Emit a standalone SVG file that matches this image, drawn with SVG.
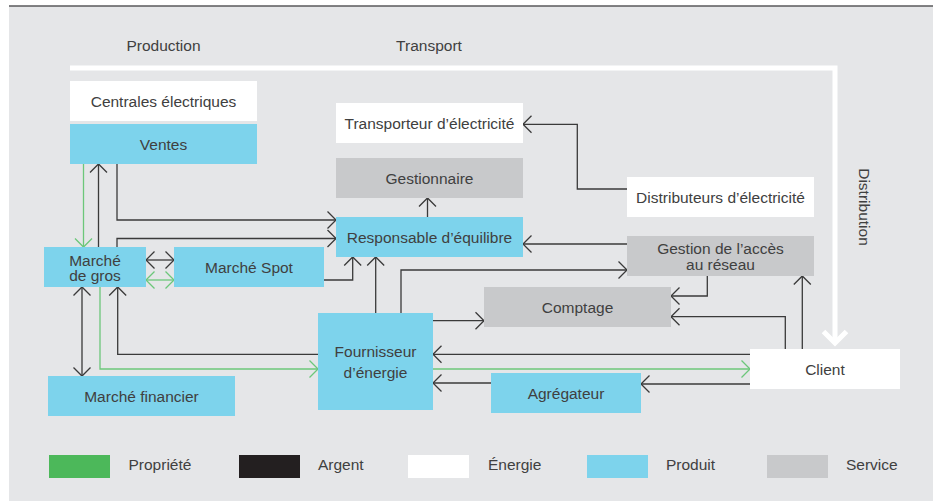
<svg xmlns="http://www.w3.org/2000/svg" width="939" height="501" viewBox="0 0 939 501">
<defs>
<style>
text{font-family:"Liberation Sans",Arial,sans-serif;font-size:15.5px;fill:#404040;}
.c{text-anchor:middle;}
.prod{fill:#7dd3ec;}
.serv{fill:#c8c9cb;}
.ener{fill:#ffffff;}
.k{fill:none;stroke:#3a3a3a;stroke-width:1.3;}
.g{fill:none;stroke:#6cc77a;stroke-width:1.3;}
</style>
<marker id="ak" viewBox="-10 -10 12 20" refX="0" refY="0" markerWidth="12" markerHeight="20" markerUnits="userSpaceOnUse" orient="auto-start-reverse"><path d="M-8.5,-8.5 L0,0 L-8.5,8.5" fill="none" stroke="#3a3a3a" stroke-width="1.3"/></marker>
<marker id="ag" viewBox="-10 -10 12 20" refX="0" refY="0" markerWidth="12" markerHeight="20" markerUnits="userSpaceOnUse" orient="auto-start-reverse"><path d="M-8.5,-8.5 L0,0 L-8.5,8.5" fill="none" stroke="#6cc77a" stroke-width="1.3"/></marker>
</defs>
<rect x="9" y="6" width="924" height="495" fill="#e5e6e8"/>
<line x1="9" y1="6" x2="933" y2="6" stroke="#58595b" stroke-width="1.6"/>

<g id="energy-flow">
<path d="M70,68 H835 V343" fill="none" stroke="#ffffff" stroke-width="5"/>
<path d="M823.5,331.5 L835,343 L846.5,331.5" fill="none" stroke="#ffffff" stroke-width="5"/>
</g>
<text x="163.5" y="50.5" class="c">Production</text>
<text x="429" y="50.5" class="c">Transport</text>
<text transform="translate(858.5,207) rotate(90)" class="c">Distribution</text>

<g id="connectors">
<path class="k" d="M98.5,247 V164" marker-end="url(#ak)"/>
<path class="g" d="M83.5,164 V247" marker-end="url(#ag)"/>
<path class="k" d="M117,164 V220 H336" marker-end="url(#ak)"/>
<path class="k" d="M117,247 V238.5 H336" marker-end="url(#ak)"/>
<path class="k" d="M146,260 H174" marker-start="url(#ak)" marker-end="url(#ak)"/>
<path class="g" d="M146,280 H174" marker-start="url(#ag)" marker-end="url(#ag)"/>
<path class="k" d="M324,280 H352.7 V257" marker-end="url(#ak)"/>
<path class="k" d="M375.7,313 V257" marker-end="url(#ak)"/>
<path class="k" d="M401,313 V270 H627" marker-end="url(#ak)"/>
<path class="k" d="M433,320.7 H484" marker-end="url(#ak)"/>
<path class="k" d="M427.5,217 V198" marker-end="url(#ak)"/>
<path class="k" d="M627,244 H523" marker-end="url(#ak)"/>
<path class="k" d="M627,189 H577.3 V124.3 H523" marker-end="url(#ak)"/>
<path class="k" d="M707.3,276 V296 H671" marker-end="url(#ak)"/>
<path class="k" d="M785.3,349 V316.7 H671" marker-end="url(#ak)"/>
<path class="k" d="M802.3,349 V276" marker-end="url(#ak)"/>
<path class="k" d="M750,354.3 H433" marker-end="url(#ak)"/>
<path class="g" d="M433,369 H750" marker-end="url(#ag)"/>
<path class="k" d="M750,384 H641" marker-end="url(#ak)"/>
<path class="k" d="M491,383 H433" marker-end="url(#ak)"/>
<path class="k" d="M318,354.3 H117.7 V287" marker-end="url(#ak)"/>
<path class="g" d="M100,287 V369 H318" marker-end="url(#ag)"/>
<path class="k" d="M82,287 V376" marker-start="url(#ak)" marker-end="url(#ak)"/>
</g>

<g id="centrales"><rect class="ener" x="70" y="81" width="187" height="40"/><text x="163.5" y="106.5" class="c">Centrales électriques</text></g>
<g id="ventes"><rect class="prod" x="70" y="124" width="187" height="40"/><text x="163.5" y="149.5" class="c">Ventes</text></g>
<g id="transporteur"><rect class="ener" x="336" y="103" width="187" height="40"/><text x="429.5" y="128.5" class="c">Transporteur d’électricité</text></g>
<g id="gestionnaire"><rect class="serv" x="336" y="158" width="187" height="40"/><text x="429.5" y="183.5" class="c">Gestionnaire</text></g>
<g id="responsable"><rect class="prod" x="336" y="217" width="187" height="40"/><text x="429.5" y="242.5" class="c">Responsable d’équilibre</text></g>
<g id="distributeurs"><rect class="ener" x="627" y="177" width="187" height="40"/><text x="720.5" y="202.5" class="c">Distributeurs d’électricité</text></g>
<g id="gestion-acces"><rect class="serv" x="627" y="236" width="187" height="40"/><text x="720.5" y="254" class="c">Gestion de l’accès</text><text x="720.5" y="269.5" class="c">au réseau</text></g>
<g id="marche-gros"><rect class="prod" x="44" y="247" width="102" height="40"/><text x="95" y="265.5" class="c">Marché</text><text x="95" y="280.8" class="c">de gros</text></g>
<g id="marche-spot"><rect class="prod" x="174" y="247" width="150" height="40"/><text x="249" y="272.5" class="c">Marché Spot</text></g>
<g id="comptage"><rect class="serv" x="484" y="287" width="187" height="40"/><text x="577.5" y="312.5" class="c">Comptage</text></g>
<g id="fournisseur"><rect class="prod" x="318" y="313" width="115" height="97"/><text x="375.5" y="357.3" class="c">Fournisseur</text><text x="375.5" y="377.7" class="c">d’énergie</text></g>
<g id="client"><rect class="ener" x="750" y="349" width="150" height="40"/><text x="825" y="374.5" class="c">Client</text></g>
<g id="agregateur"><rect class="prod" x="491" y="373" width="150" height="40"/><text x="566" y="398.5" class="c">Agrégateur</text></g>
<g id="marche-financier"><rect class="prod" x="48" y="376" width="187" height="40"/><text x="141.5" y="401.5" class="c">Marché financier</text></g>

<g id="legend">
<rect x="49" y="455" width="61" height="23" fill="#4cb85a"/><text x="128.5" y="470">Propriété</text>
<rect x="239" y="455" width="61" height="23" fill="#231f20"/><text x="318" y="470">Argent</text>
<rect x="408" y="455" width="61" height="23" fill="#ffffff"/><text x="488" y="470">Énergie</text>
<rect x="587" y="455" width="61" height="23" fill="#7dd3ec"/><text x="666" y="470">Produit</text>
<rect x="767" y="455" width="61" height="23" fill="#c8c9cb"/><text x="846" y="470">Service</text>
</g>
</svg>
